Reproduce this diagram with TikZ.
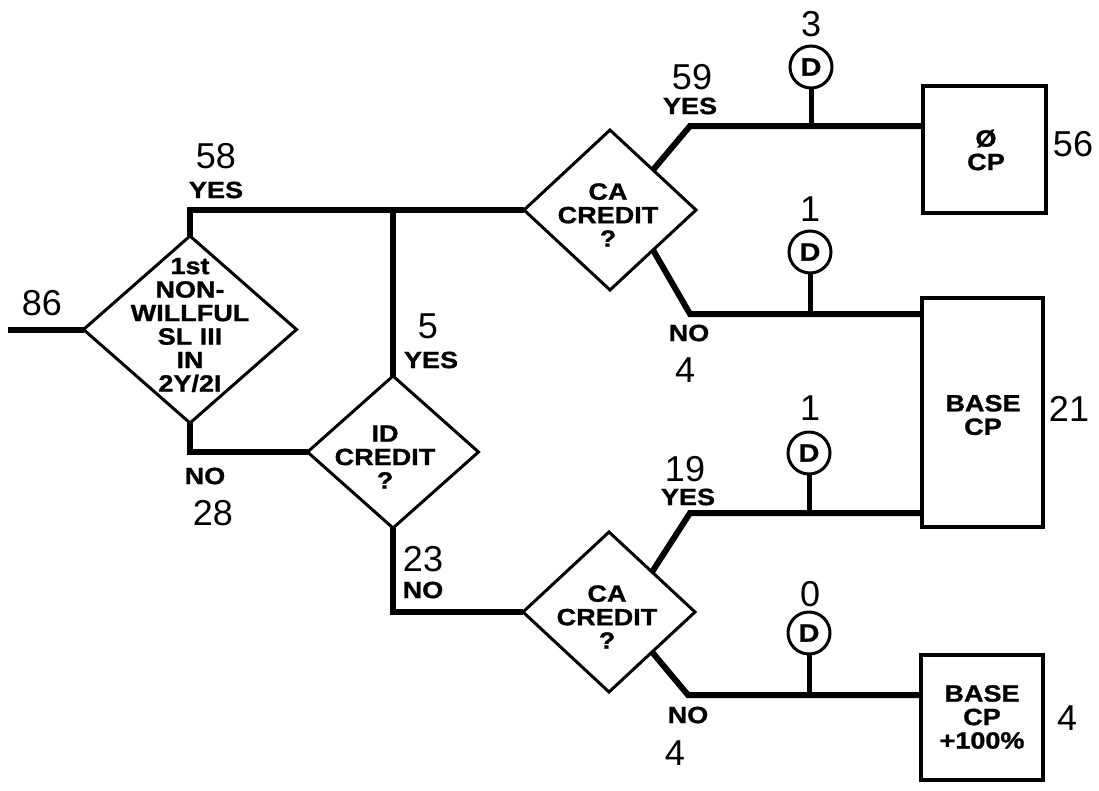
\documentclass[tikz,border=0pt]{standalone}
\usepackage{fontspec}
\setmainfont{Liberation Sans}
\newfontfamily\lblfont[FakeStretch=1.15,BoldFeatures={FakeBold=1.2}]{Liberation Sans}
\usetikzlibrary{shapes.geometric,calc}
\begin{document}
\begin{tikzpicture}[x=1pt,y=-1pt,
  dia/.style={diamond, draw, line width=3pt, inner sep=0pt, outer sep=0pt},
  box/.style={rectangle, draw, line width=3.5pt, inner sep=0pt, outer sep=0pt},
  dnode/.style={circle, draw, line width=3pt, minimum size=42pt, inner sep=0pt, outer sep=0pt,
    font=\lblfont\bfseries\fontsize{25}{27}\selectfont},
  conn/.style={line width=6pt, line join=miter},
  stem/.style={line width=5pt},
  lbl/.style={font=\lblfont\bfseries\fontsize{23.5}{23.5}\selectfont, align=center, inner sep=0pt},
  num/.style={font=\fontsize{36}{40}\selectfont, inner sep=0pt}]
\useasboundingbox (0,0) rectangle (1099,790);

% decision diamonds
\node[dia, minimum width=213pt, minimum height=187pt] (m) at (190,329.5) {};
\node[dia, minimum width=171pt, minimum height=152pt] (id) at (393,452) {};
\node[dia, minimum width=172pt, minimum height=160pt] (ca1) at (610,210) {};
\node[dia, minimum width=172pt, minimum height=160pt] (ca2) at (609,612) {};

\node[lbl] (mt) at (190,325) {1st\\NON-\\WILLFUL\\SL III\\IN\\2Y/2I};
\node[lbl] (idt) at (385,457) {ID\\CREDIT\\?};
\node[lbl] (ca1t) at (608,215) {CA\\CREDIT\\?};
\node[lbl] (ca2t) at (607,617) {CA\\CREDIT\\?};

% outcome boxes
\node[box, minimum width=123pt, minimum height=127pt] (b1) at (984.5,149.5) {};
\node[box, minimum width=121pt, minimum height=229pt] (b2) at (982.5,412.5) {};
\node[box, minimum width=122pt, minimum height=125pt] (b3) at (982,717.5) {};
\node[lbl] (b1t) at (986,150) {Ø\\CP};
\node[lbl] (b2t) at (983,415) {BASE\\CP};
\node[lbl] (b3t) at (982,717) {BASE\\CP\\+100\%};

% D circles
\node[dnode] (d1) at (811,67) {D};
\node[dnode] (d2) at (810,252) {D};
\node[dnode] (d3) at (809,453) {D};
\node[dnode] (d4) at (809,633) {D};

% connectors
\coordinate (in) at (8,329.5);
\draw[conn] (in) -- (m.west);
\draw[conn] (m.north) |- (ca1.west);
\draw[conn] (id.north) -- (id.north |- ca1.west);
\draw[conn] (m.south) |- (id.west);
\draw[conn] (id.south) |- (ca2.west);

\coordinate (y1) at (690,126);
\coordinate (n1) at (690,314);
\coordinate (y2) at (690,513);
\coordinate (n2) at (688,695);
\draw[conn] ($(ca1.north)!0.5!(ca1.east)$) -- (y1) -- (y1 -| b1.west);
\draw[conn] ($(ca1.south)!0.5!(ca1.east)$) -- (n1) -- (n1 -| b2.west);
\draw[conn] ($(ca2.north)!0.5!(ca2.east)$) -- (y2) -- (y2 -| b2.west);
\draw[conn] ($(ca2.south)!0.5!(ca2.east)$) -- (n2) -- (n2 -| b3.west);

\draw[stem] (d1.south) -- (d1.south |- y1);
\draw[stem] (d2.south) -- (d2.south |- n1);
\draw[stem] (d3.south) -- (d3.south |- y2);
\draw[stem] (d4.south) -- (d4.south |- n2);

% labels
\node[num] (l86) at (42,303) {86};
\node[num] (l58) at (216,156) {58};
\node[lbl] (lyes1) at (216,190) {YES};
\node[lbl] (lno1) at (205,476) {NO};
\node[num] (l28) at (213,513) {28};
\node[num] (l5) at (428,326) {5};
\node[lbl] (lyes2) at (431,360) {YES};
\node[num] (l23) at (423,559) {23};
\node[lbl] (lno2) at (423,590) {NO};
\node[num] (l59) at (692,77) {59};
\node[lbl] (lyes3) at (690,106) {YES};
\node[lbl] (lno3) at (689,333) {NO};
\node[num] (l4a) at (685,370) {4};
\node[num] (l19) at (685,469) {19};
\node[lbl] (lyes4) at (688,497) {YES};
\node[lbl] (lno4) at (688,715) {NO};
\node[num] (l4b) at (675,753) {4};
\node[num] (l3) at (811,24) {3};
\node[num] (l1a) at (810,209) {1};
\node[num] (l1b) at (810,408) {1};
\node[num] (l0) at (810,594) {0};
\node[num] (l56) at (1073,144) {56};
\node[num] (l21) at (1069,409) {21};
\node[num] (l4c) at (1067,718) {4};
\end{tikzpicture}
\end{document}
